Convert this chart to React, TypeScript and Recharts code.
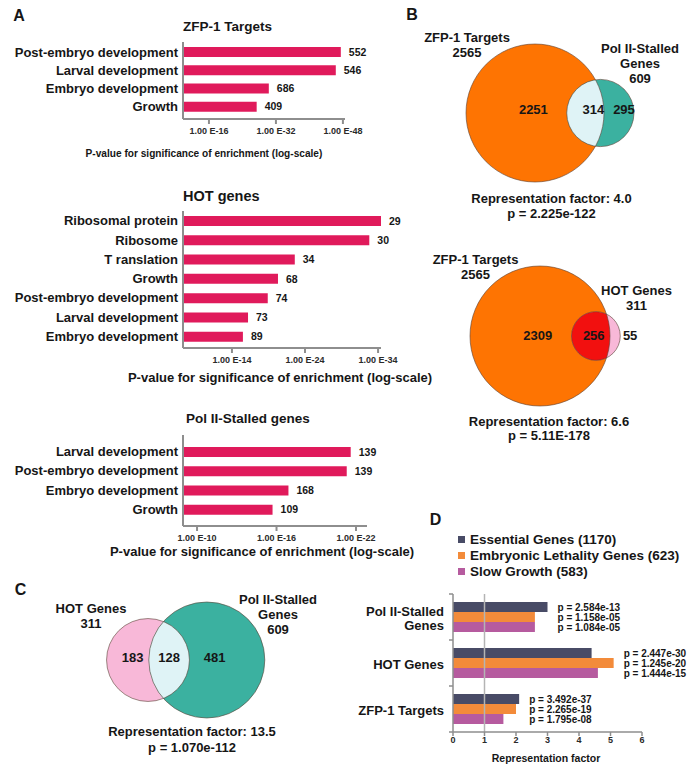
import React from "react";
import {
  BarChart,
  Bar,
  XAxis,
  YAxis,
  LabelList,
  ScatterChart,
  Scatter,
  ZAxis,
  ReferenceLine,
  Legend,
} from "recharts";

// ---------------- DATA ----------------
// Panel A: -log10(P) of GO enrichment, gene counts on bars
const zfpCategories = ["Post-embryo development", "Larval development", "Embryo development", "Growth"];
const zfpNegLogP = [47.5, 46.3, 30.3, 27.4];
const zfpGenes = [552, 546, 686, 409];
const zfpTicks = [16, 32, 48];

const hotCategories = [
  "Ribosomal protein",
  "Ribosome",
  "T ranslation",
  "Growth",
  "Post-embryo development",
  "Larval development",
  "Embryo development",
];
const hotNegLogP = [34.4, 32.8, 22.6, 20.3, 18.9, 16.2, 15.5];
const hotGenes = [29, 30, 34, 68, 74, 73, 89];
const hotTicks = [14, 24, 34];

const polCategories = ["Larval development", "Post-embryo development", "Embryo development", "Growth"];
const polNegLogP = [21.6, 21.3, 16.9, 15.7];
const polGenes = [139, 139, 168, 109];
const polTicks = [10, 16, 22];

const panelATitles = ["ZFP-1 Targets", "HOT genes", "Pol II-Stalled genes"];
const pAxisTitle = "P-value for significance of enrichment (log-scale)";

// Venn diagrams: [size of set A, size of set B, shared]
const vennB1Sets = ["ZFP-1 Targets", "Pol II-Stalled Genes"];
const vennB1Counts = [2565, 609, 314];
const vennB1Stats = ["Representation factor: 4.0", "p = 2.225e-122"];

const vennB2Sets = ["ZFP-1 Targets", "HOT Genes"];
const vennB2Counts = [2565, 311, 256];
const vennB2Stats = ["Representation factor: 6.6", "p = 5.11E-178"];

const vennCSets = ["HOT Genes", "Pol II-Stalled Genes"];
const vennCCounts = [311, 609, 128];
const vennCStats = ["Representation factor: 13.5", "p = 1.070e-112"];

// Panel D
const dCategories = ["Pol II-Stalled Genes", "HOT Genes", "ZFP-1 Targets"];
const dSeriesNames = ["Essential Genes (1170)", "Embryonic Lethality Genes (623)", "Slow Growth (583)"];
const essentialRF = [3.0, 4.4, 2.1];
const embryonicRF = [2.6, 5.1, 2.0];
const slowGrowthRF = [2.6, 4.6, 1.6];
const essentialP = ["2.584e-13", "2.447e-30", "3.492e-37"];
const embryonicP = ["1.158e-05", "1.245e-20", "2.265e-19"];
const slowGrowthP = ["1.084e-05", "1.444e-15", "1.795e-08"];
const dTicks = [0, 1, 2, 3, 4, 5, 6];
const dXTitle = "Representation factor";

// ---------------- STYLE ----------------
const FONT = '"Liberation Sans", Arial, Helvetica, sans-serif';
const TEXT = "#161616";
const AXIS = "#8e8e8e";
const BAR_PINK = "#e01a5b";
const ORANGE = "#fe7402";
const TEAL = "#3bb1a0";
const PALE = "#dff3f6";
const PINK = "#f8b8d8";
const RED = "#f2100f";
const EDGE = "#5a4236";
const D_COLORS = ["#484b66", "#f38b3a", "#b65b9f"];

// ---------------- HELPERS ----------------
function wrapText(s: string, max: number): string[] {
  const words = s.split(" ");
  const lines: string[] = [];
  let cur = "";
  for (const w of words) {
    const next = cur ? cur + " " + w : w;
    if (next.length > max && cur) {
      lines.push(cur);
      cur = w;
    } else cur = next;
  }
  if (cur) lines.push(cur);
  return lines;
}

function TextBlock({ x, y, lines, size = 13, lh = 15, align = "center", weight = 700, transform = "" }: any) {
  const style: any = {
    position: "absolute",
    top: y - lh / 2,
    left: x,
    fontSize: size,
    lineHeight: lh + "px",
    fontWeight: weight,
    whiteSpace: "pre",
    textAlign: align,
    color: TEXT,
  };
  const tx = align === "center" ? "translateX(-50%)" : align === "right" ? "translateX(-100%)" : "";
  style.transform = (tx + " " + transform).trim();
  return <div style={style}>{lines.join("\n")}</div>;
}

// ---------------- PANEL A ----------------
function EnrichmentChart({ top, categories, values, genes, domain, ticks, plotTop, plotBottom, plotRight, pad }: any) {
  const data = categories.map((name: string, i: number) => ({ name, logp: values[i], genes: genes[i] }));
  const W = 440;
  const xAxisH = 24;
  const height = plotBottom - top + xAxisH;
  return (
    <div style={{ position: "absolute", left: 0, top, width: W, height }}>
      <BarChart
        width={W}
        height={height}
        data={data}
        layout="vertical"
        margin={{ top: plotTop - top, right: W - plotRight, bottom: 0, left: 0 }}
      >
        <XAxis
          type="number"
          domain={domain}
          allowDataOverflow
          ticks={ticks}
          interval={0}
          tickFormatter={(v: number) => `1.00 E-${v}`}
          axisLine={{ stroke: AXIS, strokeWidth: 2 }}
          tickLine={{ stroke: AXIS, strokeWidth: 2 }}
          tickSize={5}
          tickMargin={4}
          height={xAxisH}
          tick={{ fontSize: 9, fontWeight: 700, fill: "#2a2a2a" }}
        />
        <YAxis
          type="category"
          dataKey="name"
          width={183}
          interval={0}
          tickLine={false}
          tickSize={0}
          tickMargin={5}
          padding={pad}
          axisLine={{ stroke: AXIS, strokeWidth: 2 }}
          tick={{ fontSize: 13, fontWeight: 700, fill: TEXT }}
        />
        <Bar dataKey="logp" fill={BAR_PINK} barSize={10} isAnimationActive={false}>
          <LabelList dataKey="genes" position="right" offset={8} fill={TEXT} fontSize={10.5} fontWeight={700} />
        </Bar>
      </BarChart>
    </div>
  );
}

// ---------------- VENN ----------------
function lensArea(r1: number, r2: number, d: number) {
  if (d >= r1 + r2) return 0;
  if (d <= Math.abs(r1 - r2)) return Math.PI * Math.min(r1, r2) ** 2;
  const a = Math.acos((d * d + r1 * r1 - r2 * r2) / (2 * d * r1));
  const b = Math.acos((d * d + r2 * r2 - r1 * r1) / (2 * d * r2));
  return r1 * r1 * (a - Math.sin(2 * a) / 2) + r2 * r2 * (b - Math.sin(2 * b) / 2);
}
function solveDistance(r1: number, r2: number, target: number) {
  let lo = Math.abs(r1 - r2);
  let hi = r1 + r2;
  for (let i = 0; i < 80; i++) {
    const mid = (lo + hi) / 2;
    if (lensArea(r1, r2, mid) > target) lo = mid;
    else hi = mid;
  }
  return (lo + hi) / 2;
}

const VennShape = (props: any) => {
  const { cx, cy } = props;
  const p = props.payload || props;
  if (cx == null || cy == null || !p) return <g />;
  const r = props.size != null ? Math.sqrt(Math.max(props.size, 0) / Math.PI) : (props.width || 0) / 2;
  switch (p.role) {
    case "fillA":
      return (
        <g>
          <defs>
            <clipPath id={`venn-clip-${p.vid}`}>
              <circle cx={cx} cy={cy} r={r} />
            </clipPath>
          </defs>
          <circle cx={cx} cy={cy} r={r} fill={p.color} />
        </g>
      );
    case "fillB":
      return <circle cx={cx} cy={cy} r={r} fill={p.color} />;
    case "overlap":
      return <circle cx={cx} cy={cy} r={r} fill={p.color} clipPath={`url(#venn-clip-${p.vid})`} />;
    case "edge":
      return <circle cx={cx} cy={cy} r={r} fill="none" stroke={EDGE} strokeOpacity={0.75} strokeWidth={0.8} />;
    case "label":
      return (
        <text x={cx} y={cy} textAnchor="middle" dominantBaseline="central" fontSize={13} fontWeight={700} fill={TEXT}>
          {p.text}
        </text>
      );
    default:
      return <g />;
  }
};

function VennChart({ id, counts, refRadius, anchor, colors, labelDx, labelDy }: any) {
  const [cA, cB, shared] = counts;
  const rA = Math.sqrt(cA / Math.PI);
  const rB = Math.sqrt(cB / Math.PI);
  const maxZ = Math.max(cA, cB);
  const k = refRadius / Math.sqrt(maxZ / Math.PI); // px per unit
  const d = solveDistance(rA, rB, shared);
  const W = 300;
  const H = 190;
  const ox = 120;
  const oy = 95;
  const toU = (px: number) => px / k;
  const anchorsX = [(-rA + (d - rB)) / 2, (d - rB + rA) / 2, (rA + (d + rB)) / 2];
  const regionCounts = [cA - shared, shared, cB - shared];
  const labels = regionCounts.map((t: number, i: number) => ({
    x: anchorsX[i] + toU(labelDx[i]),
    y: -toU(labelDy),
    z: 0,
    role: "label",
    text: t,
    vid: id,
  }));
  const data = [
    { x: 0, y: 0, z: cA, role: "fillA", color: colors[0], vid: id },
    { x: d, y: 0, z: cB, role: "fillB", color: colors[1], vid: id },
    { x: d, y: 0, z: cB, role: "overlap", color: colors[2], vid: id },
    { x: 0, y: 0, z: cA, role: "edge", vid: id },
    { x: d, y: 0, z: cB, role: "edge", vid: id },
    ...labels,
  ];
  return (
    <div style={{ position: "absolute", left: anchor[0] - ox, top: anchor[1] - oy, width: W, height: H }}>
      <ScatterChart width={W} height={H} margin={{ top: 0, right: 0, bottom: 0, left: 0 }}>
        <XAxis type="number" dataKey="x" hide domain={[toU(-ox), toU(W - ox)]} allowDataOverflow />
        <YAxis type="number" dataKey="y" hide domain={[toU(-(H - oy)), toU(oy)]} allowDataOverflow />
        <ZAxis type="number" dataKey="z" domain={[0, maxZ]} range={[0, maxZ * k * k]} />
        <Scatter data={data} shape={VennShape} isAnimationActive={false} />
      </ScatterChart>
    </div>
  );
}

// ---------------- PANEL D ----------------
const dSeriesValues = [essentialRF, embryonicRF, slowGrowthRF];
const dPValues = [essentialP, embryonicP, slowGrowthP];
const D_PLOT_H = 138;
const D_BAND = D_PLOT_H / dCategories.length;

const dData = dCategories.map((name, i) => ({
  name,
  ess: essentialRF[i],
  emb: embryonicRF[i],
  slow: slowGrowthRF[i],
  pEss: essentialP[i],
  pEmb: embryonicP[i],
  pSlow: slowGrowthP[i],
}));

function makePLabel(s: number) {
  return (props: any) => {
    const vb = props.viewBox || props;
    const { x, y, width, height } = vb;
    let i = props.index;
    if (i == null || dPValues[s][i] !== props.value) i = dPValues[s].indexOf(props.value);
    if (i < 0 || x == null) return null;
    const own = dSeriesValues[s][i];
    const max = Math.max(...dSeriesValues.map((arr) => arr[i]));
    const endMax = x + (width * max) / own;
    return (
      <text x={endMax + 10} y={y + height / 2} dominantBaseline="central" fontSize={10} fontWeight={700} fill={TEXT}>
        {`p = ${dPValues[s][i]}`}
      </text>
    );
  };
}

const DTick = (props: any) => {
  const { x, y, payload, index } = props;
  const lines = wrapText(String(payload.value), 14);
  const lh = 14;
  const startY = y - ((lines.length - 1) * lh) / 2 + 1;
  const axisX = x + 7;
  const half = D_BAND / 2;
  return (
    <g>
      {lines.map((l, j) => (
        <text key={j} x={x - 2} y={startY + j * lh} textAnchor="end" dominantBaseline="central" fontSize={13} fontWeight={700} fill={TEXT}>
          {l}
        </text>
      ))}
      <line x1={axisX - 4} x2={axisX} y1={y - half} y2={y - half} stroke={AXIS} strokeWidth={1.5} />
      {index === dCategories.length - 1 ? (
        <line x1={axisX - 4} x2={axisX} y1={y + half} y2={y + half} stroke={AXIS} strokeWidth={1.5} />
      ) : null}
    </g>
  );
};

const DLegend = (props: any) => {
  const payload = [...(props.payload || [])].sort(
    (a: any, b: any) => dSeriesNames.indexOf(a.value) - dSeriesNames.indexOf(b.value)
  );
  return (
    <div>
      {payload.map((e: any, i: number) => (
        <div key={i} style={{ display: "flex", alignItems: "center", height: 16, whiteSpace: "nowrap" }}>
          <span style={{ display: "inline-block", width: 7, height: 7, background: e.color, marginRight: 5 }} />
          <span style={{ fontSize: 13.5, fontWeight: 700, color: TEXT, fontFamily: FONT }}>{e.value}</span>
        </div>
      ))}
    </div>
  );
};

function PanelD() {
  const W = 359;
  const H = 272;
  const keys = ["ess", "emb", "slow"];
  const pKeys = ["pEss", "pEmb", "pSlow"];
  return (
    <div style={{ position: "absolute", left: 340, top: 500, width: W, height: H }}>
      <BarChart
        width={W}
        height={H}
        data={dData}
        layout="vertical"
        barGap={0}
        margin={{ top: 94, right: 57, bottom: 0, left: 0 }}
      >
        <XAxis
          type="number"
          domain={[0, 6]}
          ticks={dTicks}
          interval={0}
          height={272 - 94 - D_PLOT_H}
          axisLine={{ stroke: AXIS, strokeWidth: 1.5 }}
          tickLine={{ stroke: AXIS, strokeWidth: 1.5 }}
          tickSize={4}
          tickMargin={1}
          tick={{ fontSize: 9, fontWeight: 700, fill: "#2a2a2a" }}
        />
        <YAxis
          type="category"
          dataKey="name"
          width={113}
          interval={0}
          tickLine={false}
          tickSize={0}
          tickMargin={7}
          axisLine={{ stroke: AXIS, strokeWidth: 1.5 }}
          tick={<DTick />}
        />
        <ReferenceLine x={1} stroke="#b4b4b4" strokeWidth={1.5} />
        <Legend
          layout="vertical"
          align="center"
          verticalAlign="middle"
          itemSorter={null as any}
          wrapperStyle={{ left: 118, top: 31, width: 240, height: 50 }}
          content={<DLegend />}
        />
        {keys.map((k, s) => (
          <Bar key={k} dataKey={k} name={dSeriesNames[s]} fill={D_COLORS[s]} barSize={10} isAnimationActive={false}>
            <LabelList dataKey={pKeys[s]} content={makePLabel(s)} />
          </Bar>
        ))}
      </BarChart>
    </div>
  );
}

// ---------------- APP ----------------
export default function App() {
  const setLabel = (name: string, count: number) => [...wrapText(name, 14), String(count)];
  return (
    <div
      style={{
        position: "absolute",
        left: 0,
        top: 0,
        width: 699,
        height: 772,
        background: "#ffffff",
        fontFamily: FONT,
        color: TEXT,
        overflow: "hidden",
      }}
    >
      {/* Panel letters */}
      <TextBlock x={19} y={16} lines={["A"]} size={16} lh={18} />
      <TextBlock x={412} y={15} lines={["B"]} size={16} lh={18} />
      <TextBlock x={20.5} y={590} lines={["C"]} size={16} lh={18} />
      <TextBlock x={435.5} y={520} lines={["D"]} size={16} lh={18} />

      {/* Panel A */}
      <TextBlock x={183} y={27} lines={[panelATitles[0]]} size={13.5} lh={16} align="left" />
      <EnrichmentChart
        top={0}
        categories={zfpCategories}
        values={zfpNegLogP}
        genes={zfpGenes}
        domain={[9.8, 48.5]}
        ticks={zfpTicks}
        plotTop={42}
        plotBottom={119}
        plotRight={345}
        pad={{ top: 1, bottom: 3 }}
      />
      <TextBlock x={203.5} y={153} lines={[pAxisTitle]} size={11.5} lh={14} transform="scaleX(0.88)" />

      <TextBlock x={183} y={196} lines={[panelATitles[1]]} size={14.5} lh={17} align="left" />
      <EnrichmentChart
        top={160}
        categories={hotCategories}
        values={hotNegLogP}
        genes={hotGenes}
        domain={[7.3, 34.4]}
        ticks={hotTicks}
        plotTop={211}
        plotBottom={348}
        plotRight={381}
        pad={{ top: 0, bottom: 2 }}
      />
      <TextBlock x={280} y={377} lines={[pAxisTitle]} size={13} lh={15} />

      <TextBlock x={186} y={419} lines={[panelATitles[2]]} size={13.5} lh={16} align="left" />
      <EnrichmentChart
        top={380}
        categories={polCategories}
        values={polNegLogP}
        genes={polGenes}
        domain={[8.94, 22.83]}
        ticks={polTicks}
        plotTop={435}
        plotBottom={526}
        plotRight={367}
        pad={{ top: 7, bottom: 7 }}
      />
      <TextBlock x={262} y={551} lines={[pAxisTitle]} size={13} lh={15} />

      {/* Panel B top */}
      <VennChart
        id="b1"
        counts={vennB1Counts}
        refRadius={69}
        anchor={[535, 113]}
        colors={[ORANGE, TEAL, PALE]}
        labelDx={[17, 8, 5]}
        labelDy={-4}
      />
      <TextBlock x={467} y={37.5} lines={setLabel(vennB1Sets[0], vennB1Counts[0])} />
      <TextBlock x={640} y={48.3} lines={setLabel(vennB1Sets[1], vennB1Counts[1])} />
      <TextBlock x={551.5} y={199.5} lines={vennB1Stats} lh={14.5} />

      {/* Panel B bottom */}
      <VennChart
        id="b2"
        counts={vennB2Counts}
        refRadius={70}
        anchor={[539.5, 335.5]}
        colors={[ORANGE, PINK, RED]}
        labelDx={[17, 3, 15]}
        labelDy={-1}
      />
      <TextBlock x={475.5} y={259.5} lines={setLabel(vennB2Sets[0], vennB2Counts[0])} />
      <TextBlock x={636.5} y={290} lines={setLabel(vennB2Sets[1], vennB2Counts[1])} />
      <TextBlock x={549} y={421.7} lines={vennB2Stats} lh={14} />

      {/* Panel C */}
      <VennChart
        id="c"
        counts={vennCCounts}
        refRadius={58}
        anchor={[147.5, 659.5]}
        colors={[PINK, TEAL, PALE]}
        labelDx={[5, 0, -12.5]}
        labelDy={-3}
      />
      <TextBlock x={91} y={608.8} lines={setLabel(vennCSets[0], vennCCounts[0])} />
      <TextBlock x={278} y={599.5} lines={setLabel(vennCSets[1], vennCCounts[1])} />
      <TextBlock x={192} y={732} lines={vennCStats} lh={15.5} />

      {/* Panel D */}
      <PanelD />
      <TextBlock x={546} y={758.5} lines={[dXTitle]} size={10.5} lh={13} />
    </div>
  );
}
